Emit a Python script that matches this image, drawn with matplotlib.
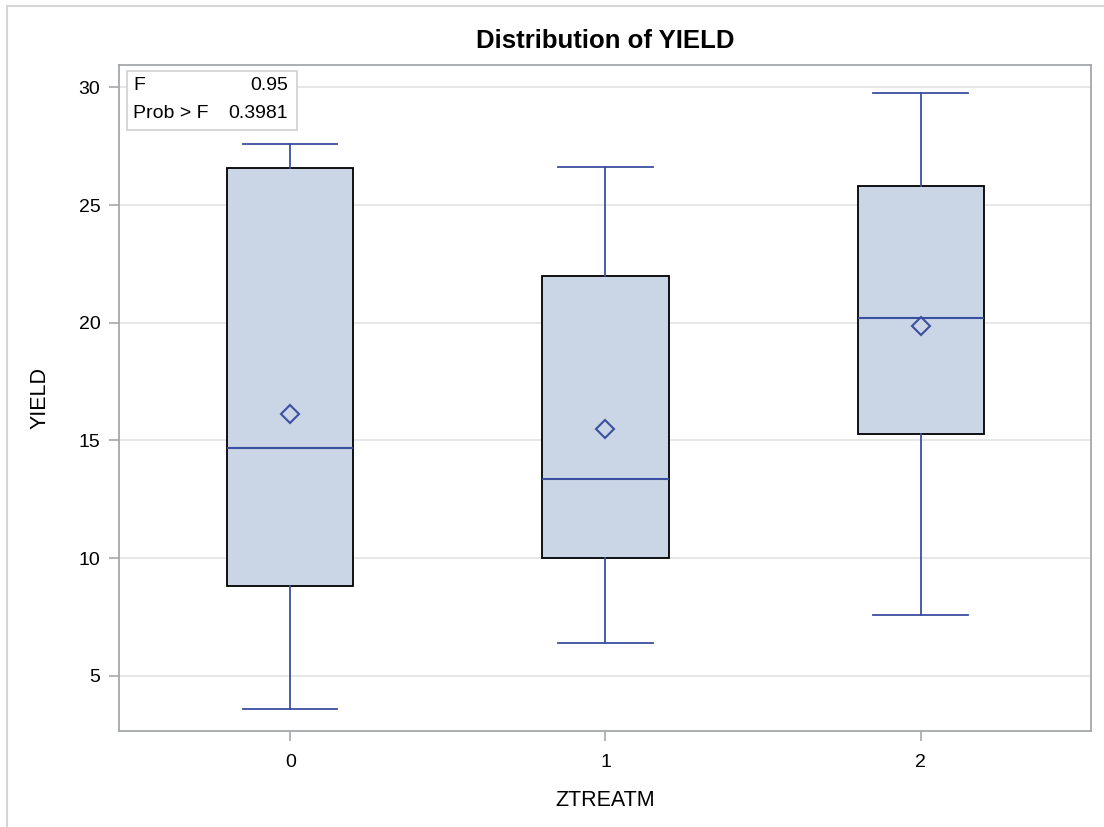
import matplotlib
matplotlib.use("Agg")
import matplotlib.pyplot as plt
from matplotlib.lines import Line2D
from matplotlib.patches import Rectangle

plt.rcParams['font.family'] = ['Liberation Sans', 'DejaVu Sans']

categories = ["0", "1", "2"]
whisker_low = [3.6, 6.4, 7.58]
q1 = [8.81, 10.0, 15.25]
median = [14.66, 13.35, 20.21]
q3 = [26.57, 21.99, 25.8]
whisker_high = [27.58, 26.61, 29.75]
means = [16.14, 15.47, 19.87]
f_value = "0.95"
p_value = "0.3981"

box_fill = "#CAD5E5"
blue = "#3B4FA0"
frame = "#A5A8AB"

fig = plt.figure(figsize=(11.04, 8.27), dpi=100)
ax = fig.add_axes([119/1104, 1-731/827, (1091-119)/1104, (731-65)/827])

stats = []
for i, c in enumerate(categories):
    stats.append(dict(label=c, whislo=whisker_low[i], q1=q1[i], med=median[i],
                      q3=q3[i], whishi=whisker_high[i], mean=means[i], fliers=[]))

ax.bxp(stats, positions=range(len(categories)), widths=0.4, showmeans=True,
       patch_artist=True, showfliers=False,
       boxprops=dict(facecolor=box_fill, edgecolor="black", linewidth=1.3),
       medianprops=dict(color=blue, linewidth=1.5),
       whiskerprops=dict(color=blue, linewidth=1.3),
       capprops=dict(color=blue, linewidth=1.3),
       meanprops=dict(marker="D", markerfacecolor="none", markeredgecolor=blue,
                      markeredgewidth=1.5, markersize=9),
       capwidths=0.3)

ax.set_xlim(-0.543, 2.54)
ax.set_ylim(2.65, 30.95)
ax.set_yticks([5, 10, 15, 20, 25, 30])
ax.set_xticks(range(len(categories)))
ax.set_xticklabels(categories)
ax.grid(axis="y", color="#E3E3E3", linewidth=1.2)
ax.set_axisbelow(True)
for s in ax.spines.values():
    s.set_color(frame)
    s.set_linewidth(1.3)
ax.tick_params(axis="both", colors=frame, labelcolor="black", labelsize=14,
               length=7.5, width=1.2)
ax.tick_params(axis="y", pad=6)
ax.tick_params(axis="x", pad=9)

ax.set_xlabel("ZTREATM", fontsize=15.5, labelpad=14)
ax.set_ylabel("YIELD", fontsize=15.5, labelpad=20)
ax.set_title("Distribution of YIELD", fontsize=18.5, fontweight="bold", pad=12)

# inset stats box
rect = Rectangle((127/1104, 1-130/827), (297-127)/1104, (130-71)/827,
                 transform=fig.transFigure, facecolor="white",
                 edgecolor="#D0D0D0", linewidth=1.2, zorder=5)
fig.patches.append(rect)
fig.text(133/1104, 1-86/827, "F", fontsize=14, va="center", ha="left", zorder=6)
fig.text(288/1104, 1-86/827, f_value, fontsize=14, va="center", ha="right", zorder=6)
fig.text(133/1104, 1-114/827, "Prob > F", fontsize=14, va="center", ha="left", zorder=6)
fig.text(288/1104, 1-114/827, p_value, fontsize=14, va="center", ha="right", zorder=6)

# outer border lines
fig.add_artist(Line2D([7/1104, 1], [1-6/827, 1-6/827], transform=fig.transFigure,
                      color="#D6D6D6", linewidth=1.5))
fig.add_artist(Line2D([7/1104, 7/1104], [0, 1-6/827], transform=fig.transFigure,
                      color="#D6D6D6", linewidth=1.5))

fig.savefig("out.png", dpi=100)
